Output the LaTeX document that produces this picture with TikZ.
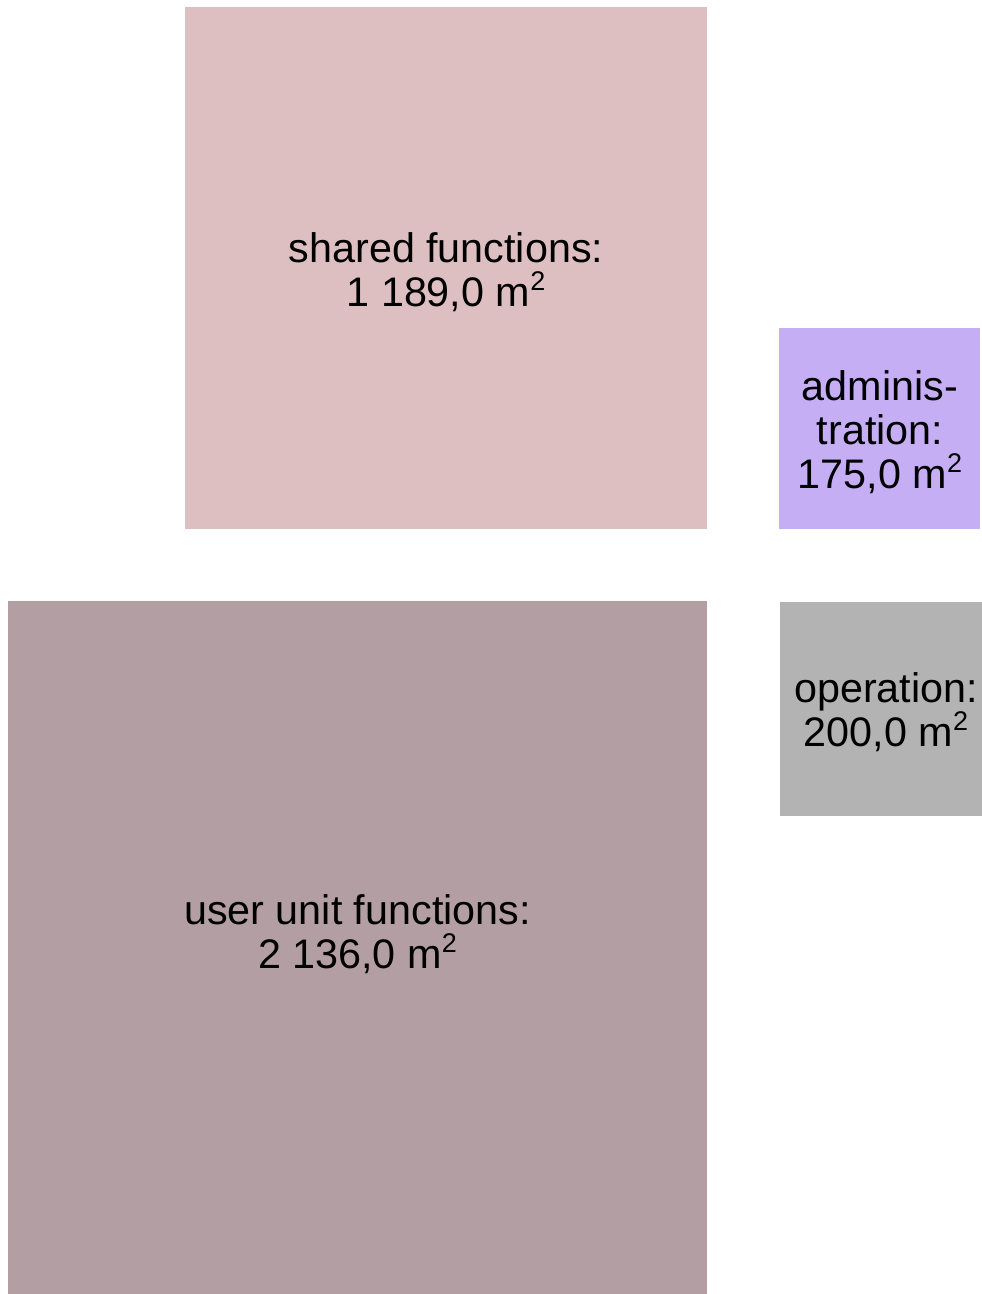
\documentclass[tikz,border=0pt]{standalone}
\usepackage{fontspec}
\setmainfont{Liberation Sans}
\definecolor{sharedc}{HTML}{DEBFC1}
\definecolor{adminc}{HTML}{C6AEF5}
\definecolor{userc}{HTML}{B39EA4}
\definecolor{operc}{HTML}{B3B3B3}
% square-metre superscript
\newcommand{\sqtwo}{\smash{\raisebox{0.38em}{\fontsize{27}{27}\selectfont 2}}}
\begin{document}
\begin{tikzpicture}[x=1pt,y=-1pt,
  lbl/.style={align=center,inner sep=0pt,font=\fontsize{41.3}{44}\selectfont,text=black}]
  \useasboundingbox (0,0) rectangle (982,1294);
  % area blocks
  \fill[sharedc] (185,7) rectangle (707,529);
  \fill[adminc] (779,328) rectangle (980,529);
  \fill[userc] (8,601) rectangle (707,1294);
  \fill[operc] (780,602) rectangle (982,816);
  % labels
  \node[lbl] (shared) at (446,272) {shared functions:\\1 189,0 m\sqtwo};
  \node[lbl] (admin) at (880,432) {adminis-\\tration:\\175,0 m\sqtwo};
  \node[lbl] (oper) at (886,712) {operation:\\200,0 m\sqtwo};
  \node[lbl] (user) at (357.5,934) {user unit functions:\\2 136,0 m\sqtwo};
\end{tikzpicture}
\end{document}
